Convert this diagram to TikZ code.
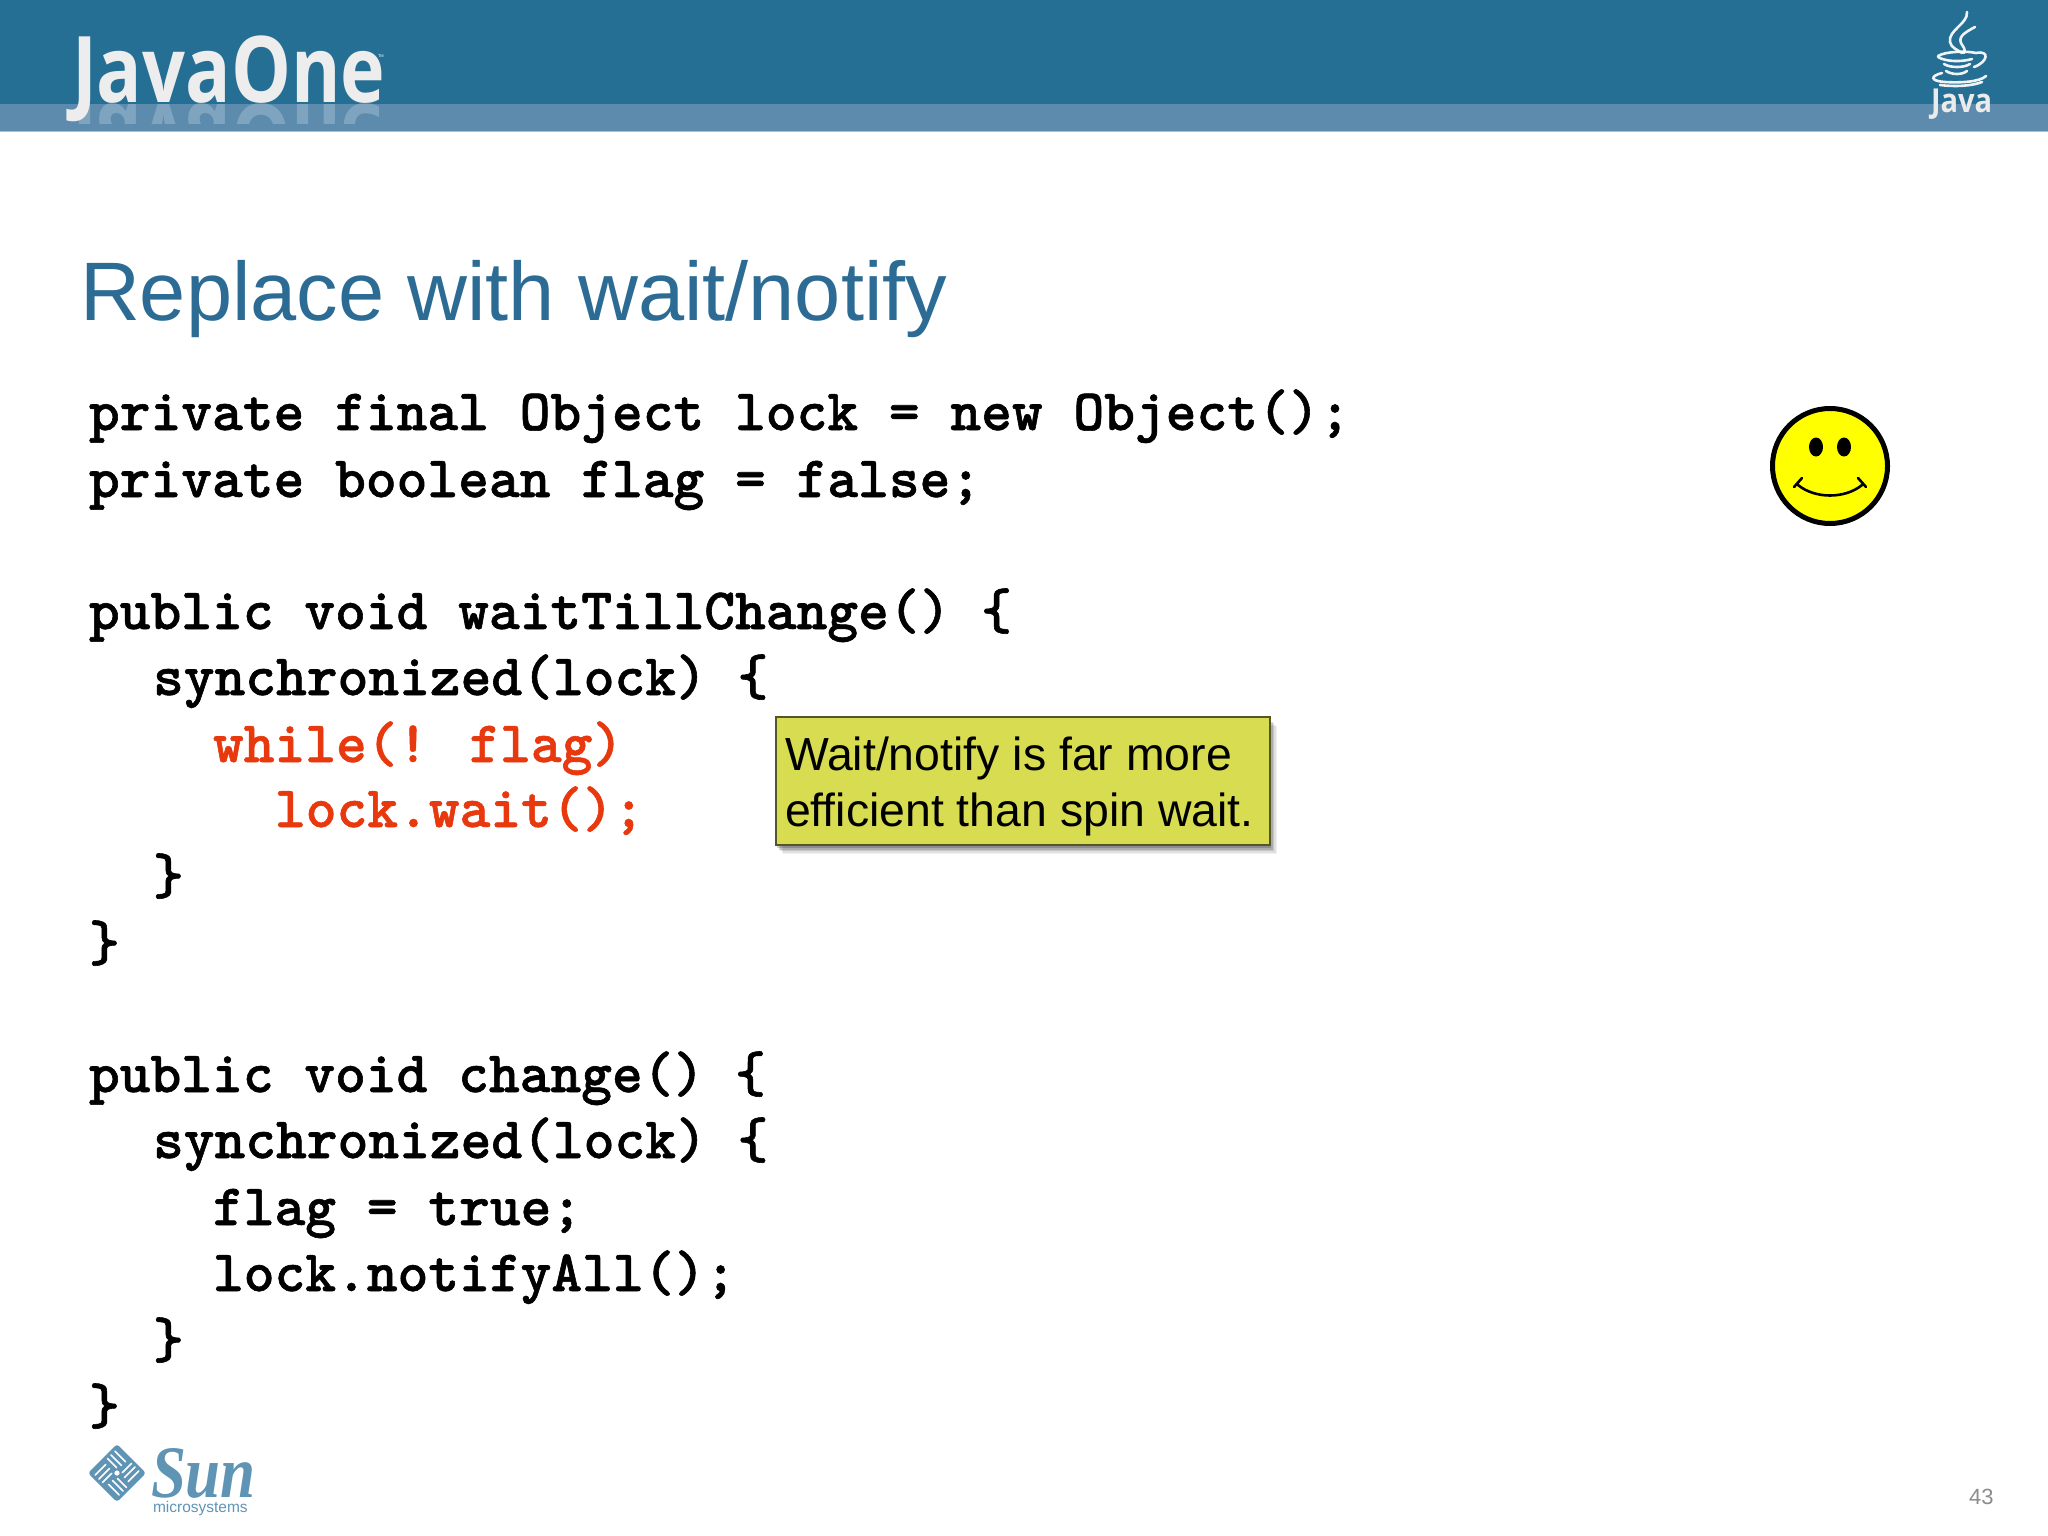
\documentclass[tikz,border=0pt]{standalone}
\usepackage{fontspec}
\setmainfont{Liberation Sans}
\newfontfamily\codefont{lmmonolt10-bold.otf}[FakeBold=1]
\newfontfamily\logofont{Open Sans}
\newfontfamily\sunfont{Liberation Serif}
\definecolor{hdrdark}{HTML}{256F95}
\definecolor{hdrband}{HTML}{5C8BAD}
\definecolor{hdrline}{HTML}{A5C3D8}
\definecolor{titleblue}{HTML}{2C6B94}
\definecolor{codered}{HTML}{E8380D}
\definecolor{notefill}{HTML}{D8DC50}
\definecolor{noteedge}{HTML}{55552A}
\definecolor{sunblue}{HTML}{5F94B4}
\definecolor{smileyyellow}{HTML}{FFFF00}
\tikzset{
  txt/.style={inner sep=0pt,outer sep=0pt,anchor=base west},
  codeline/.style={txt,text=black,font=\fontsize{58.6}{60}\selectfont\codefont},
  redline/.style={codeline,text=codered},
  steam/.style={draw=white,line width=2.6pt,line cap=round,opacity=.92},
  sunstripe/.style={draw=white,line width=1.6pt,line cap=round}
}
\begin{document}
\begin{tikzpicture}[x=1pt,y=-1pt]
\useasboundingbox (0,0) rectangle (2048,1536);
% header
\fill[hdrdark] (0,0) rectangle (2048,104);
\fill[hdrband] (0,104) rectangle (2048,131);
\fill[hdrline] (0,131) rectangle (2048,132.5);
\begin{scope}
  \clip (60,104) rectangle (400,124);
  \node[txt,text=white,opacity=.22,yscale=-1,xscale=.82,font=\fontsize{92}{92}\selectfont\logofont\bfseries] (javaonereflect) at (72,105) {JavaOne};
\end{scope}
\node[txt,text=white!93!black,xscale=.82,font=\fontsize{92}{92}\selectfont\logofont\bfseries] (javaone) at (72,103) {JavaOne};
\node[txt,text=white,font=\fontsize{4}{4}\selectfont] (javaonetm) at (378,58) {TM};
% java logo
\draw[steam] (1967,12) .. controls (1968,24) and (1948,30) .. (1950,42) .. controls (1951,48) and (1958,50) .. (1962,53);
\draw[steam] (1975,27) .. controls (1966,32) and (1958,36) .. (1961,43) .. controls (1963,47) and (1966,49) .. (1964,53);
\draw[steam] (1938,56) .. controls (1946,51) and (1968,51) .. (1976,53) .. controls (1990,50) and (1988,62) .. (1974,67);
\draw[steam] (1938,57) .. controls (1946,62) and (1962,62) .. (1972,59);
\draw[steam] (1944,64) .. controls (1950,68) and (1964,68) .. (1970,64);
\draw[steam] (1946,71) .. controls (1952,75) and (1962,75) .. (1967,71);
\draw[steam] (1942,73) .. controls (1930,76) and (1930,81) .. (1945,82) .. controls (1960,83) and (1980,82) .. (1986,76);
\draw[steam] (1940,85) .. controls (1955,87) and (1972,86) .. (1982,82);
\node[txt,text=white!92!black,xscale=.88,font=\fontsize{33}{33}\selectfont\logofont\bfseries] (javasmall) at (1931,113) {Java};
% title
\node[txt,text=titleblue,font=\fontsize{83}{83}\selectfont] (title) at (80,320) {Replace with wait/notify};
% code
\node[codeline] (l1) at (89,430) {private final Object lock = new Object();};
\node[codeline] (l2) at (89,497) {private boolean flag = false;};
\node[codeline] (l3) at (89,629) {public void waitTillChange() \{};
\node[codeline] (l4) at (153,695) {synchronized(lock) \{};
\node[redline] (l5) at (213,762) {while(! flag)};
\node[redline] (l6) at (275,827) {lock.wait();};
\node[codeline] (l7) at (153,894) {\}};
\node[codeline] (l8) at (89,961) {\}};
\node[codeline] (l9) at (89,1092) {public void change() \{};
\node[codeline] (l10) at (153,1158) {synchronized(lock) \{};
\node[codeline] (l11) at (213,1225) {flag = true;};
\node[codeline] (l12) at (213,1291) {lock.notifyAll();};
\node[codeline] (l13) at (153,1358) {\}};
\node[codeline] (l14) at (89,1424) {\}};
% note
\foreach \o/\a in {9/.05,7.5/.08,6/.1,4.5/.14,3/.18}
  \fill[black,opacity=\a] (776+\o-2,717+\o) rectangle (1270+\o-2,845+\o);
\draw[noteedge,line width=1.2pt,fill=notefill] (776,717) rectangle (1270,845);
\node[txt,text=black,font=\fontsize{46.4}{46.4}\selectfont] (note1) at (785,770) {Wait/notify is far more};
\node[txt,text=black,font=\fontsize{46.4}{46.4}\selectfont] (note2) at (785,826) {efficient than spin wait.};
% smiley
\draw[black,line width=5pt,fill=smileyyellow] (1830,466) circle[radius=57.5];
\fill[black] (1816,447) ellipse[x radius=7,y radius=9.5];
\fill[black] (1844,447) ellipse[x radius=7,y radius=9.5];
\draw[black,line width=2.6pt,line cap=round] (1798,485) .. controls (1815,499) and (1845,499) .. (1862,485);
\draw[black,line width=2.6pt,line cap=round] (1802,478) -- (1794,487);
\draw[black,line width=2.6pt,line cap=round] (1858,478) -- (1866,487);
% sun logo
\begin{scope}[shift={(117,1473)},rotate=45]
  \fill[sunblue,rounded corners=3pt] (-20.5,-20.5) rectangle (20.5,20.5);
  \foreach \r in {0,90,180,270}{
    \begin{scope}[rotate=\r]
      \draw[sunstripe] (-17,-14) -- (-2,-14);
      \draw[sunstripe] (-17,-8.5) -- (-2,-8.5);
      \draw[sunstripe] (-4,-3.5) -- (-17,-3.5);
    \end{scope}
  }
  \fill[white] (0,0) circle[radius=2.6];
\end{scope}
\node[txt,text=sunblue,text depth=0pt,font=\fontsize{74}{74}\selectfont\sunfont\itshape\bfseries,xscale=.85] (sun) at (151,1497) {Sun};
\node[txt,text=sunblue,text height=9pt,font=\fontsize{15.5}{15.5}\selectfont] (micro) at (153,1512) {microsystems};
% page number
\node[txt,text=black!45,font=\fontsize{22}{22}\selectfont] (page) at (1969,1504) {43};
\end{tikzpicture}
\end{document}
